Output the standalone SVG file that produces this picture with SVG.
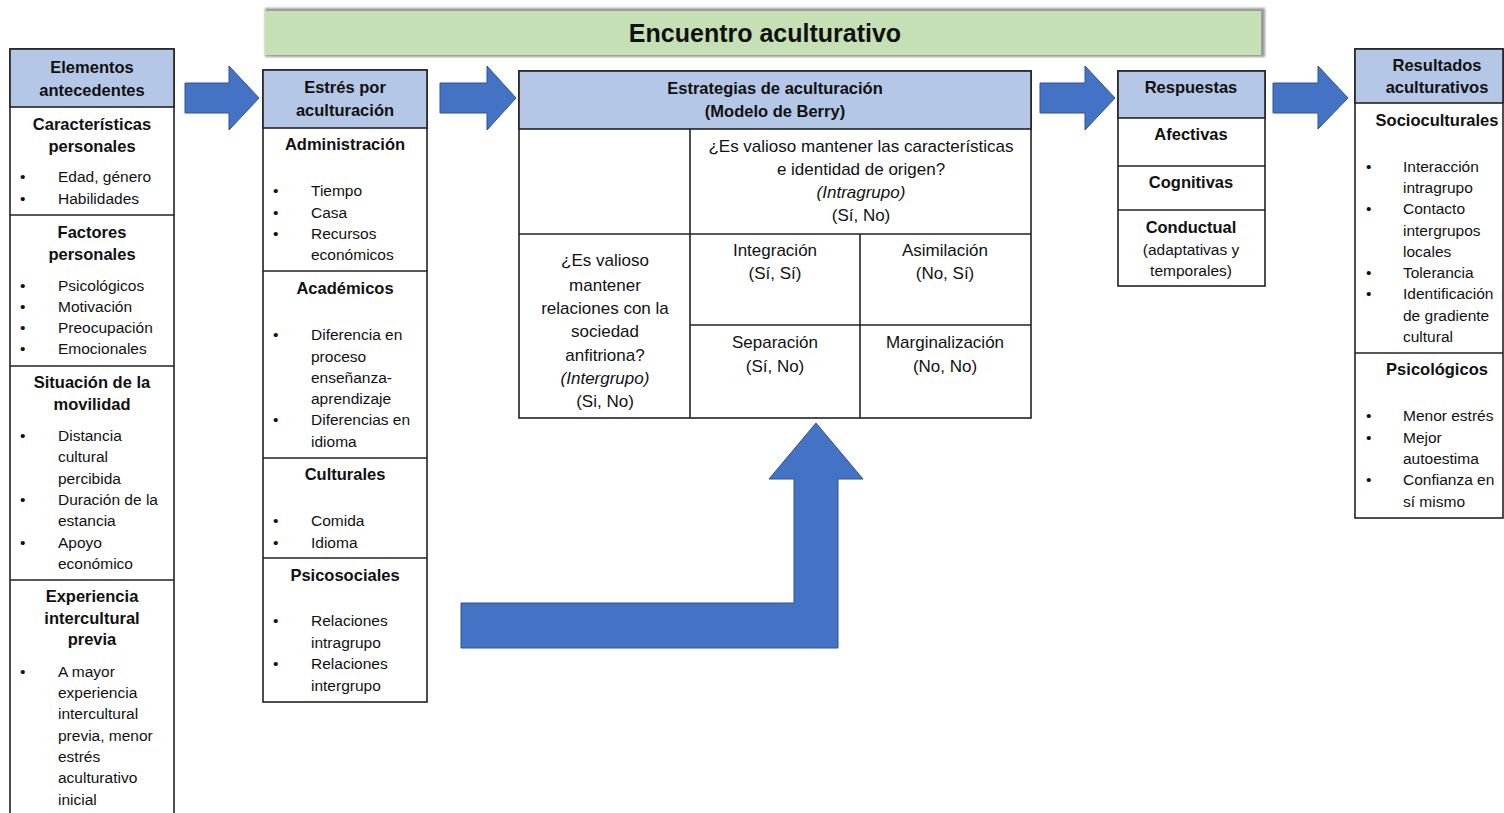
<svg xmlns="http://www.w3.org/2000/svg" width="1504" height="813" viewBox="0 0 1504 813">
  <defs>
    <filter id="soft" x="-5%" y="-50%" width="110%" height="200%">
      <feGaussianBlur stdDeviation="1"/>
    </filter>
  </defs>
  <style>
    text { font-family: "Liberation Sans", Arial, sans-serif; fill: #111; }
    .hd { fill: #b4c7e7; stroke: #222; stroke-width: 1.6; }
    .box { fill: #ffffff; stroke: #222; stroke-width: 1.6; }
    .ln { stroke: #222; stroke-width: 1.6; }
    .h { font-size: 16.5px; font-weight: bold; text-anchor: middle; }
    .t { font-size: 15.5px; }
    .c { font-size: 17px; text-anchor: middle; }
    .cb { font-size: 16.5px; font-weight: bold; text-anchor: middle; }
    .i { font-style: italic; }
    .arrow { fill: #4472c4; stroke: #2f528f; stroke-width: 1; }
  </style>

  <!-- Title band -->
  <g id="titulo">
    <rect x="265" y="8" width="1000" height="49" fill="#9a9a9a" filter="url(#soft)"/>
    <rect x="265" y="11" width="996" height="44" fill="#c5e0b4"/>
    <text x="765" y="42" font-size="25" font-weight="bold" text-anchor="middle">Encuentro aculturativo</text>
  </g>

  <!-- Column 1: antecedents -->
  <g id="antecedentes">
    <rect class="box" x="10" y="49" width="164" height="780"/>
    <rect class="hd" x="10" y="49" width="164" height="58"/>
    <line class="ln" x1="10" y1="215" x2="174" y2="215"/>
    <line class="ln" x1="10" y1="366" x2="174" y2="366"/>
    <line class="ln" x1="10" y1="580" x2="174" y2="580"/>
    <text class="h" x="92" y="73">Elementos</text>
    <text class="h" x="92" y="96">antecedentes</text>

    <text class="h" x="92" y="130">Características</text>
    <text class="h" x="92" y="152">personales</text>
    <text class="t" x="20" y="182">•</text><text class="t" x="58" y="182">Edad, género</text>
    <text class="t" x="20" y="204">•</text><text class="t" x="58" y="204">Habilidades</text>

    <text class="h" x="92" y="238">Factores</text>
    <text class="h" x="92" y="260">personales</text>
    <text class="t" x="20" y="291">•</text><text class="t" x="58" y="291">Psicológicos</text>
    <text class="t" x="20" y="312">•</text><text class="t" x="58" y="312">Motivación</text>
    <text class="t" x="20" y="333">•</text><text class="t" x="58" y="333">Preocupación</text>
    <text class="t" x="20" y="354">•</text><text class="t" x="58" y="354">Emocionales</text>

    <text class="h" x="92" y="388">Situación de la</text>
    <text class="h" x="92" y="410">movilidad</text>
    <text class="t" x="20" y="441">•</text><text class="t" x="58" y="441">Distancia</text>
    <text class="t" x="58" y="462">cultural</text>
    <text class="t" x="58" y="484">percibida</text>
    <text class="t" x="20" y="505">•</text><text class="t" x="58" y="505">Duración de la</text>
    <text class="t" x="58" y="526">estancia</text>
    <text class="t" x="20" y="548">•</text><text class="t" x="58" y="548">Apoyo</text>
    <text class="t" x="58" y="569">económico</text>

    <text class="h" x="92" y="602">Experiencia</text>
    <text class="h" x="92" y="624">intercultural</text>
    <text class="h" x="92" y="645">previa</text>
    <text class="t" x="20" y="677">•</text><text class="t" x="58" y="677">A mayor</text>
    <text class="t" x="58" y="698">experiencia</text>
    <text class="t" x="58" y="719">intercultural</text>
    <text class="t" x="58" y="741">previa, menor</text>
    <text class="t" x="58" y="762">estrés</text>
    <text class="t" x="58" y="783">aculturativo</text>
    <text class="t" x="58" y="805">inicial</text>
  </g>

  <!-- Column 2: acculturative stress -->
  <g id="estres">
    <rect class="box" x="263" y="70" width="164" height="632"/>
    <rect class="hd" x="263" y="70" width="164" height="58"/>
    <line class="ln" x1="263" y1="271" x2="427" y2="271"/>
    <line class="ln" x1="263" y1="458" x2="427" y2="458"/>
    <line class="ln" x1="263" y1="558" x2="427" y2="558"/>
    <text class="h" x="345" y="93">Estrés por</text>
    <text class="h" x="345" y="116">aculturación</text>

    <text class="h" x="345" y="150">Administración</text>
    <text class="t" x="273" y="196">•</text><text class="t" x="311" y="196">Tiempo</text>
    <text class="t" x="273" y="218">•</text><text class="t" x="311" y="218">Casa</text>
    <text class="t" x="273" y="239">•</text><text class="t" x="311" y="239">Recursos</text>
    <text class="t" x="311" y="260">económicos</text>

    <text class="h" x="345" y="294">Académicos</text>
    <text class="t" x="273" y="340">•</text><text class="t" x="311" y="340">Diferencia en</text>
    <text class="t" x="311" y="362">proceso</text>
    <text class="t" x="311" y="383">enseñanza-</text>
    <text class="t" x="311" y="404">aprendizaje</text>
    <text class="t" x="273" y="425">•</text><text class="t" x="311" y="425">Diferencias en</text>
    <text class="t" x="311" y="447">idioma</text>

    <text class="h" x="345" y="480">Culturales</text>
    <text class="t" x="273" y="526">•</text><text class="t" x="311" y="526">Comida</text>
    <text class="t" x="273" y="548">•</text><text class="t" x="311" y="548">Idioma</text>

    <text class="h" x="345" y="581">Psicosociales</text>
    <text class="t" x="273" y="626">•</text><text class="t" x="311" y="626">Relaciones</text>
    <text class="t" x="311" y="648">intragrupo</text>
    <text class="t" x="273" y="669">•</text><text class="t" x="311" y="669">Relaciones</text>
    <text class="t" x="311" y="691">intergrupo</text>
  </g>

  <!-- Column 3: Berry's strategies -->
  <g id="estrategias">
    <rect class="box" x="519" y="71" width="512" height="347"/>
    <rect class="hd" x="519" y="71" width="512" height="58"/>
    <line class="ln" x1="519" y1="234" x2="1031" y2="234"/>
    <line class="ln" x1="690" y1="129" x2="690" y2="418"/>
    <line class="ln" x1="860" y1="234" x2="860" y2="418"/>
    <line class="ln" x1="690" y1="325" x2="1031" y2="325"/>
    <text class="cb" x="775" y="94">Estrategias de aculturación</text>
    <text class="cb" x="775" y="117">(Modelo de Berry)</text>

    <text class="c" x="861" y="152">¿Es valioso mantener las características</text>
    <text class="c" x="861" y="175">e identidad de origen?</text>
    <text class="c i" x="861" y="198">(Intragrupo)</text>
    <text class="c" x="861" y="221">(Sí, No)</text>

    <text class="c" x="605" y="266">¿Es valioso</text>
    <text class="c" x="605" y="291">mantener</text>
    <text class="c" x="605" y="314">relaciones con la</text>
    <text class="c" x="605" y="337">sociedad</text>
    <text class="c" x="605" y="361">anfitriona?</text>
    <text class="c i" x="605" y="384">(Intergrupo)</text>
    <text class="c" x="605" y="407">(Si, No)</text>

    <text class="c" x="775" y="256">Integración</text>
    <text class="c" x="775" y="279">(Sí, Sí)</text>
    <text class="c" x="945" y="256">Asimilación</text>
    <text class="c" x="945" y="279">(No, Sí)</text>
    <text class="c" x="775" y="348">Separación</text>
    <text class="c" x="775" y="372">(Sí, No)</text>
    <text class="c" x="945" y="348">Marginalización</text>
    <text class="c" x="945" y="372">(No, No)</text>
  </g>

  <!-- Column 4: responses -->
  <g id="respuestas">
    <rect class="box" x="1118" y="71" width="147" height="215"/>
    <rect class="hd" x="1118" y="71" width="147" height="47"/>
    <line class="ln" x1="1118" y1="166" x2="1265" y2="166"/>
    <line class="ln" x1="1118" y1="210" x2="1265" y2="210"/>
    <text class="h" x="1191" y="93">Respuestas</text>
    <text class="h" x="1191" y="140">Afectivas</text>
    <text class="h" x="1191" y="188">Cognitivas</text>
    <text class="h" x="1191" y="233">Conductual</text>
    <text class="t" x="1191" y="255" text-anchor="middle">(adaptativas y</text>
    <text class="t" x="1191" y="276" text-anchor="middle">temporales)</text>
  </g>

  <!-- Column 5: acculturative outcomes -->
  <g id="resultados">
    <rect class="box" x="1355" y="49" width="148" height="469"/>
    <rect class="hd" x="1355" y="49" width="148" height="54"/>
    <line class="ln" x1="1355" y1="353" x2="1503" y2="353"/>
    <text class="h" x="1437" y="71">Resultados</text>
    <text class="h" x="1437" y="93">aculturativos</text>

    <text class="h" x="1437" y="126">Socioculturales</text>
    <text class="t" x="1366" y="172">•</text><text class="t" x="1403" y="172">Interacción</text>
    <text class="t" x="1403" y="193">intragrupo</text>
    <text class="t" x="1366" y="214">•</text><text class="t" x="1403" y="214">Contacto</text>
    <text class="t" x="1403" y="236">intergrupos</text>
    <text class="t" x="1403" y="257">locales</text>
    <text class="t" x="1366" y="278">•</text><text class="t" x="1403" y="278">Tolerancia</text>
    <text class="t" x="1366" y="299">•</text><text class="t" x="1403" y="299">Identificación</text>
    <text class="t" x="1403" y="321">de gradiente</text>
    <text class="t" x="1403" y="342">cultural</text>

    <text class="h" x="1437" y="375">Psicológicos</text>
    <text class="t" x="1366" y="421">•</text><text class="t" x="1403" y="421">Menor estrés</text>
    <text class="t" x="1366" y="443">•</text><text class="t" x="1403" y="443">Mejor</text>
    <text class="t" x="1403" y="464">autoestima</text>
    <text class="t" x="1366" y="485">•</text><text class="t" x="1403" y="485">Confianza en</text>
    <text class="t" x="1403" y="507">sí mismo</text>
  </g>

  <!-- Block arrows -->
  <g id="conectores">
    <polygon class="arrow" points="185,83 229,83 229,66 259,98 229,130 229,113 185,113"/>
    <polygon class="arrow" points="440,83 487,83 487,66 516,98 487,130 487,113 440,113"/>
    <polygon class="arrow" points="1040,83 1085,83 1085,66 1115,98 1085,130 1085,113 1040,113"/>
    <polygon class="arrow" points="1273,83 1318,83 1318,66 1348,98 1318,129 1318,113 1273,113"/>
    <polygon class="arrow" points="461,603 794,603 794,479 769,479 816,423 863,479 838,479 838,648 461,648"/>
  </g>
</svg>
